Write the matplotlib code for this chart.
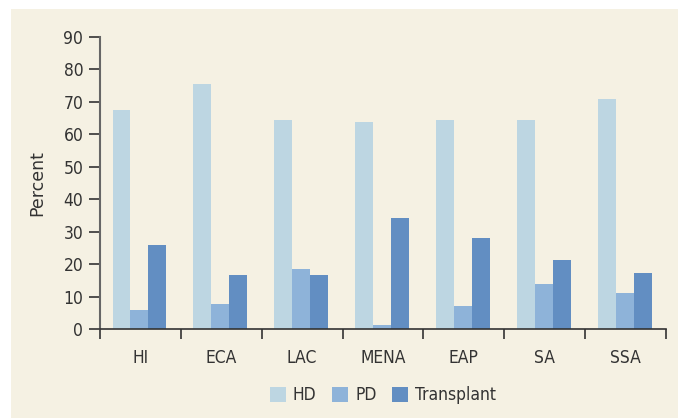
import matplotlib
matplotlib.use("Agg")
import matplotlib.pyplot as plt
from matplotlib.patches import Rectangle
import numpy as np

plt.rcParams['font.family'] = ['DejaVu Sans']
plt.rcParams['font.stretch'] = 'condensed'

regions = ["HI", "ECA", "LAC", "MENA", "EAP", "SA", "SSA"]
hd = [67.5, 75.5, 64.4, 63.8, 64.4, 64.4, 70.9]
pd_ = [5.9, 7.8, 18.5, 1.3, 7.2, 14.0, 11.2]
transplant = [25.9, 16.7, 16.7, 34.2, 28.1, 21.3, 17.3]

series = [("HD", hd, "#bdd6e2"), ("PD", pd_, "#8eb3d9"), ("Transplant", transplant, "#628ec2")]

W, H = 678, 418
fig = plt.figure(figsize=(W / 100, H / 100), dpi=100)
fig.patch.set_facecolor("white")
fig.patches.append(Rectangle((11 / W, 0), 1, (H - 9) / H, transform=fig.transFigure,
                             facecolor="#f5f1e3", edgecolor="none", zorder=-10))

ax = fig.add_axes([100 / W, (H - 329.3) / H, 566 / W, (329.3 - 36.7) / H])
ax.set_facecolor("none")

x = np.arange(len(regions))
bw = 0.222
for i, (name, vals, col) in enumerate(series):
    ax.bar(x + (i - 1) * bw - 0.012, vals, width=bw, color=col, label=name, zorder=2)

ax.set_xlim(-0.5, len(regions) - 0.5)
ax.set_ylim(0, 90)
ax.set_yticks(range(0, 91, 10))

ax.set_xticks(np.arange(-0.5, len(regions), 1.0))
ax.set_xticklabels([])
ax.set_xticks(x, minor=True)
ax.set_xticklabels(regions, minor=True)
ax.tick_params(axis="x", which="major", length=7, width=1.2, color="#333333", direction="out")
ax.tick_params(axis="x", which="minor", length=0, pad=14, labelsize=12.5, labelcolor="#333333")
ax.tick_params(axis="y", length=8, width=1.2, color="#333333", pad=4, labelsize=12.5, labelcolor="#333333")

for s in ["top", "right"]:
    ax.spines[s].set_visible(False)
ax.spines["left"].set_color("#666666")
ax.spines["left"].set_linewidth(1.5)
ax.spines["bottom"].set_color("#333333")
ax.spines["bottom"].set_linewidth(1.2)

ax.set_ylabel("Percent", fontsize=12.5, color="#333333", fontstretch="normal")
ax.yaxis.set_label_coords((46 - 100) / 566, 0.5)

fig.legend(loc="center", bbox_to_anchor=(383 / W, (H - 395.5) / H), ncol=3, frameon=False,
           fontsize=12.5, handlelength=0.92, handleheight=0.92, handletextpad=0.4,
           columnspacing=0.92, labelcolor="#333333")

fig.savefig("out.png", dpi=100)
